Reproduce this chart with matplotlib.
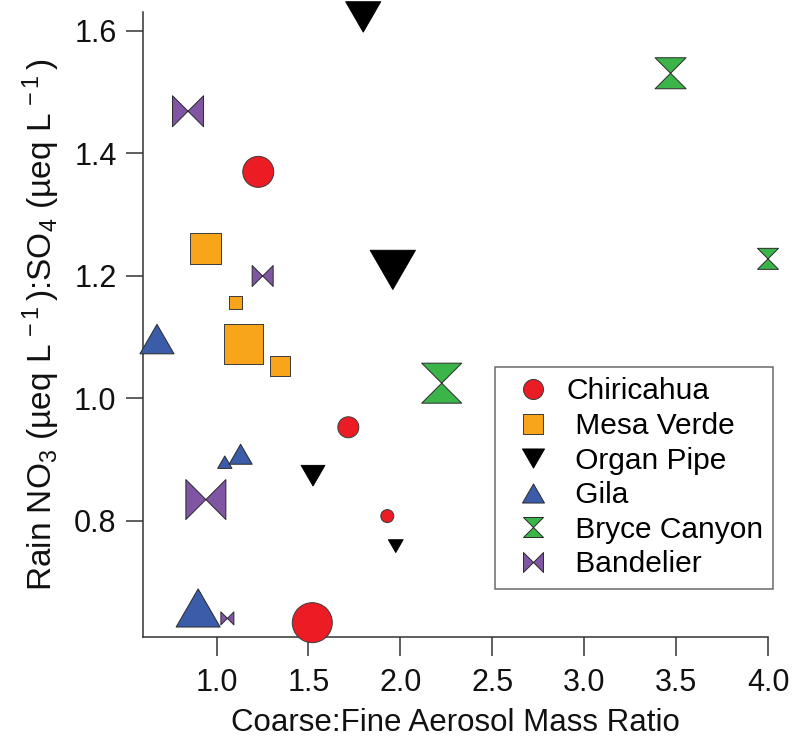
import matplotlib
matplotlib.use("Agg")
import matplotlib.pyplot as plt
import numpy as np
from matplotlib.path import Path
from matplotlib.lines import Line2D

plt.rcParams['font.family'] = ['Liberation Sans', 'DejaVu Sans']
plt.rcParams['mathtext.fontset'] = 'custom'
plt.rcParams['mathtext.rm'] = 'Liberation Sans'
plt.rcParams['mathtext.it'] = 'Liberation Sans:italic'
plt.rcParams['mathtext.bf'] = 'Liberation Sans:bold'

# ---------------- data ----------------
sites = ["Chiricahua", "Mesa Verde", "Organ Pipe", "Gila", "Bryce Canyon", "Bandelier"]

chiricahua_x = [1.227, 1.717, 1.929, 1.521]
chiricahua_y = [1.370, 0.953, 0.808, 0.634]
chiricahua_size = [3, 2, 1, 4]

mesa_verde_x = [0.940, 1.105, 1.148, 1.345]
mesa_verde_y = [1.245, 1.157, 1.089, 1.053]
mesa_verde_size = [3, 1, 4, 2]

organ_pipe_x = [1.798, 1.959, 1.525, 1.975]
organ_pipe_y = [1.623, 1.210, 0.874, 0.759]
organ_pipe_size = [3, 4, 2, 1]

gila_x = [0.676, 1.045, 1.131, 0.900]
gila_y = [1.097, 0.896, 0.909, 0.658]
gila_size = [3, 1, 2, 4]

bryce_x = [3.470, 4.000, 2.225]
bryce_y = [1.531, 1.228, 1.025]
bryce_size = [3, 2, 4]

bandelier_x = [0.845, 1.251, 0.942, 1.059]
bandelier_y = [1.469, 1.200, 0.835, 0.641]
bandelier_size = [3, 2, 4, 1]

x_ticks = [1.0, 1.5, 2.0, 2.5, 3.0, 3.5, 4.0]
y_ticks = [0.8, 1.0, 1.2, 1.4, 1.6]

# ---------------- styles ----------------
M, L, C = Path.MOVETO, Path.LINETO, Path.CLOSEPOLY
h = np.sqrt(3) / 4
tri_up = Path([(-0.5, -h), (0.5, -h), (0, h), (-0.5, -h)], [M, L, L, C])
tri_down = Path([(-0.5, h), (0.5, h), (0, -h), (-0.5, h)], [M, L, L, C])
square = Path([(-0.5, -0.5), (0.5, -0.5), (0.5, 0.5), (-0.5, 0.5), (-0.5, -0.5)], [M, L, L, L, C])
hourglass = Path([(-0.5, 0.5), (0.5, 0.5), (0, 0), (-0.5, 0.5),
                  (-0.5, -0.5), (0.5, -0.5), (0, 0), (-0.5, -0.5)],
                 [M, L, L, C, M, L, L, C])
bowtie = Path([(-0.5, 0.5), (-0.5, -0.5), (0, 0), (-0.5, 0.5),
               (0.5, 0.5), (0.5, -0.5), (0, 0), (0.5, 0.5)],
              [M, L, L, C, M, L, L, C])

size_px = {1: 13, 2: 21, 3: 31, 4: 40}
px2pt = 72 / 100.0

styles = {
    "Chiricahua":   dict(marker='o', color='#EC1C24', edge='#3a3a3a', scale=1.0),
    "Mesa Verde":   dict(marker=square, color='#F8A51B', edge='#3a3a3a', scale=0.98),
    "Organ Pipe":   dict(marker=tri_down, color='#000000', edge='#000000', scale=1.13),
    "Gila":         dict(marker=tri_up, color='#3B5CA8', edge='#2a2a2a', scale=1.1),
    "Bryce Canyon": dict(marker=hourglass, color='#3BB44A', edge='#2a2a2a', scale=1.0),
    "Bandelier":    dict(marker=bowtie, color='#7F55A4', edge='#2a2a2a', scale=1.0),
}

data = {
    "Chiricahua": (chiricahua_x, chiricahua_y, chiricahua_size),
    "Mesa Verde": (mesa_verde_x, mesa_verde_y, mesa_verde_size),
    "Organ Pipe": (organ_pipe_x, organ_pipe_y, organ_pipe_size),
    "Gila": (gila_x, gila_y, gila_size),
    "Bryce Canyon": (bryce_x, bryce_y, bryce_size),
    "Bandelier": (bandelier_x, bandelier_y, bandelier_size),
}

fig = plt.figure(figsize=(7.93, 7.37), dpi=100)
ax = fig.add_axes([143 / 793, 100 / 737, 625 / 793, 625 / 737])

for site in sites:
    xs, ys, ss = data[site]
    st = styles[site]
    s = [(size_px[k] * st['scale'] * px2pt) ** 2 for k in ss]
    ax.scatter(xs, ys, s=s, marker=st['marker'], facecolor=st['color'],
               edgecolor=st['edge'], linewidths=0.7, clip_on=False, zorder=5)

ax.set_xlim(0.6, 4.0)
ax.set_ylim(0.6106, 1.631)
ax.set_xticks(x_ticks)
ax.set_xticklabels([f"{v:.1f}" for v in x_ticks])
ax.set_yticks(y_ticks)
ax.set_yticklabels([f"{v:.1f}" for v in y_ticks])

for sp in ['top', 'right']:
    ax.spines[sp].set_visible(False)
for sp in ['left', 'bottom']:
    ax.spines[sp].set_linewidth(1.1)
    ax.spines[sp].set_color('#333333')

ax.tick_params(axis='x', direction='out', length=13.4, width=1.1, color='#333333',
               pad=9, labelsize=22, labelcolor='#111111')
ax.tick_params(axis='y', direction='out', length=12, width=1.1, color='#333333',
               pad=7, labelsize=22, labelcolor='#111111')

ax.set_xlabel("Coarse:Fine Aerosol Mass Ratio", fontsize=22.5, color='#111111', labelpad=7)
ax.set_ylabel(r"Rain NO$_3$ (µeq L$^{\,-1}\,$):SO$_4$ (µeq L$^{\,-1}\,$)", fontsize=24,
              color='#111111', labelpad=9)

handles = []
labels = []
for i, site in enumerate(sites):
    st = styles[site]
    ms = 20 * px2pt * (1.1 if st['marker'] in (tri_up, tri_down) else 1.0)
    handles.append(Line2D([], [], linestyle='none', marker=st['marker'], markersize=ms,
                          markerfacecolor=st['color'], markeredgecolor=st['edge'],
                          markeredgewidth=0.7))
    labels.append(site if i == 0 else " " + site)

leg = ax.legend(handles, labels, loc='upper left',
                bbox_to_anchor=(495 / 793, 1 - 367 / 737), bbox_transform=fig.transFigure,
                borderaxespad=0, frameon=True, fancybox=False, fontsize=21.5,
                handlelength=1.85, handletextpad=0.2, borderpad=0.35, labelspacing=0.22)
fr = leg.get_frame()
fr.set_edgecolor('#444444')
fr.set_linewidth(1.1)
leg.set_zorder(10)

fig.savefig("out.png", dpi=100)
